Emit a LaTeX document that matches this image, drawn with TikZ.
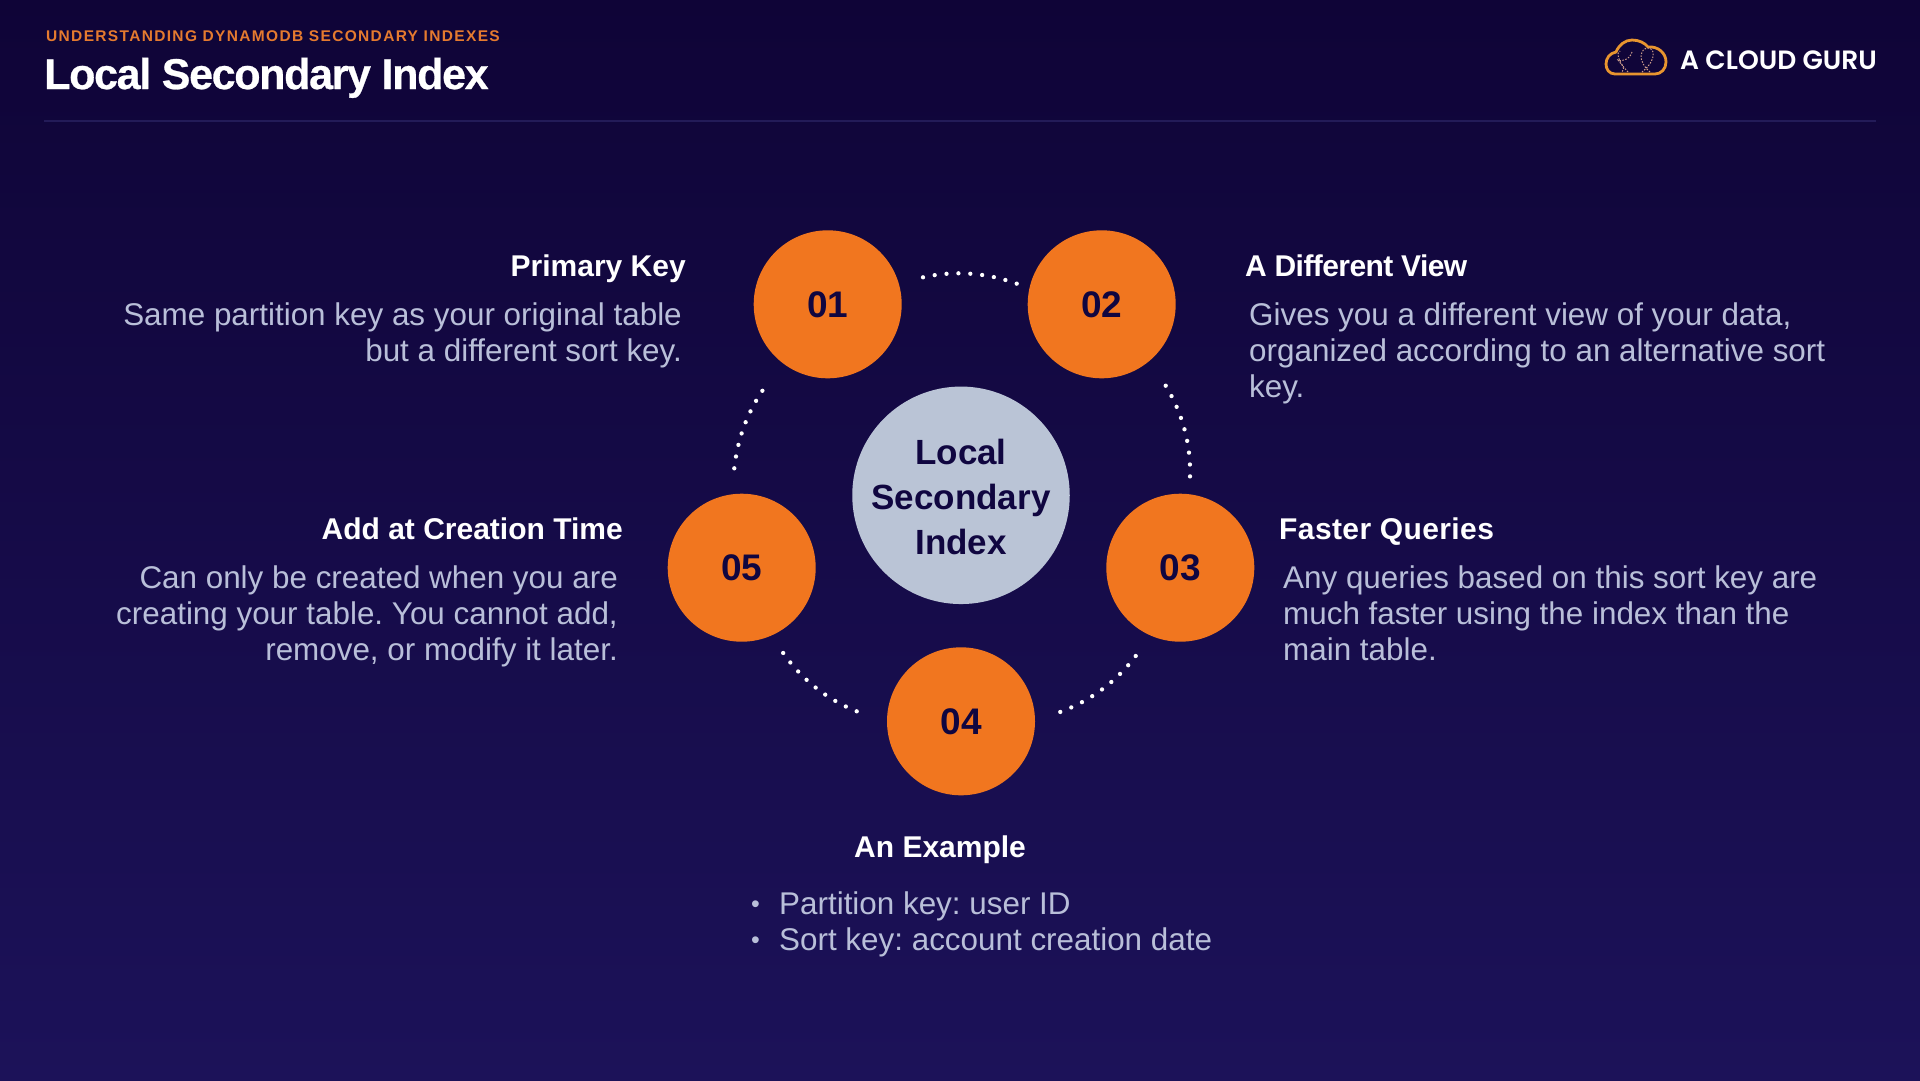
\documentclass[tikz,border=0pt]{standalone}
\usepackage{fontspec}
\setmainfont{Liberation Sans}
\newfontfamily\logofont[BoldFont={Poppins SemiBold}]{Poppins}
\frenchspacing
\definecolor{bgtop}{HTML}{0F0437}
\definecolor{bgbot}{HTML}{1C1259}
\definecolor{orangec}{HTML}{F1761F}
\definecolor{navy}{HTML}{100640}
\definecolor{hubc}{HTML}{BAC4D6}
\definecolor{bodyc}{HTML}{B9BFD9}
\definecolor{kickc}{HTML}{E57A2F}
\definecolor{rulec}{HTML}{231B58}
\definecolor{cloudc}{HTML}{E8952F}
\definecolor{cloudd}{HTML}{C99A8A}
\tikzset{
  numc/.style={circle,fill=orangec,minimum size=148pt,inner sep=0pt,text=navy,font=\fontsize{37}{37}\selectfont\bfseries},
  hubn/.style={circle,fill=hubc,minimum size=217.5pt,inner sep=0pt,text=navy,align=center,font=\fontsize{35}{45}\selectfont\bfseries},
  headt/.style={inner sep=0pt,text=white,font=\fontsize{30}{36}\selectfont\bfseries},
  bodyt/.style={inner sep=0pt,text=bodyc,font=\fontsize{31.4}{36}\selectfont},
  bult/.style={inner sep=0pt,text=bodyc,font=\fontsize{25}{36}\selectfont},
  dotarc/.style={white,line width=4.3pt,line cap=round,dash pattern=on 0pt off 11.9pt},
  cloudin/.style={cloudd,line width=1pt,dash pattern=on 1.5pt off 1.5pt}
}
\begin{document}
\begin{tikzpicture}[x=1pt,y=-1pt]
\useasboundingbox (0,0) rectangle (1920,1080);
\shade[top color=bgtop,bottom color=bgbot,middle color=bgtop!50!bgbot] (0,0) rectangle (1920,1080);
% header
\node[anchor=base west,inner sep=0pt,text=kickc,font=\fontsize{15.5}{18}\selectfont\bfseries] (kick) at (46,41) {\addfontfeature{LetterSpace=8.6}UNDERSTANDING DYNAMODB SECONDARY INDEXES};
\node[anchor=base west,inner sep=0pt,text=white,font=\fontsize{43}{46}\selectfont\bfseries] (title) at (44,89) {\addfontfeature{LetterSpace=-3.1,FakeBold=0.6}Local Secondary Index};
\draw[rulec,line width=2pt] (44,120.5) -- (1876,120.5);
% logo
\node[anchor=base west,inner sep=0pt,text=white,font=\logofont\fontsize{26.5}{30}\selectfont\bfseries] (logo) at (1680,69) {A CLOUD GURU};
\draw[cloudc,line width=2.8pt,line join=round] (1615,74) .. controls (1609,74) and (1606,69) .. (1606,64) .. controls (1606,58) and (1610,53) .. (1616,52) .. controls (1619,45) and (1625,40) .. (1632,40) .. controls (1639,40) and (1645,43) .. (1648,47) .. controls (1658,46) and (1666,53) .. (1666,62) .. controls (1666,69) and (1661,74) .. (1655,74) -- cycle;
\draw[cloudin] (1650,72) .. controls (1636,60) and (1641,48) .. (1648,48) .. controls (1655,48) and (1657,60) .. (1642,72);
\draw[cloudin] (1628,72) .. controls (1618,62) and (1616,52) .. (1620,51);
\draw[cloudin] (1632,52) .. controls (1630,60) and (1620,62) .. (1618,60) .. controls (1620,64) and (1626,66) .. (1622,72);
% nodes
\node[hubn] (hub) at (961,495.3) {\rule{0pt}{29pt}Local\\Secondary\\Index};
\node[numc] (c1) at (827.7,304.3) {01};
\node[numc] (c2) at (1101.7,304.3) {02};
\node[numc] (c3) at (1180.3,567.7) {03};
\node[numc] (c4) at (961,721.3) {04};
\node[numc] (c5) at (741.7,567.7) {05};
% dotted arcs
\coordinate (a12) at (923,277.3); \coordinate (b12) at (1017.7,284);
\coordinate (a23) at (1165.7,385.7); \coordinate (b23) at (1190,477.3);
\coordinate (a34) at (1135.7,656); \coordinate (b34) at (1059.3,712.3);
\coordinate (a45) at (856.7,711.3); \coordinate (b45) at (782.7,652.3);
\coordinate (a51) at (734.3,468.3); \coordinate (b51) at (762.7,390.3);
\draw[dotarc] (a12) .. controls (954.5,270.3) and (986.1,272.5) .. (b12);
\draw[dotarc] (a23) .. controls (1182.9,414.2) and (1191,444.8) .. (b23);
\draw[dotarc] (a34) .. controls (1115.8,682.1) and (1090.4,700.9) .. (b34);
\draw[dotarc] (a45) .. controls (826.2,699) and (801.5,679.3) .. (b45);
\draw[dotarc] (a51) .. controls (737.4,439.6) and (746.8,413.6) .. (b51);
% text
\node[headt,anchor=base east] (h1) at (686,276) {Primary Key};
\node[bodyt,anchor=north east,align=right] (t1) at (682,303) {Same partition key as your original table\\but a different sort key.};
\node[headt,anchor=base west] (h2) at (1245,276) {\addfontfeature{LetterSpace=-1.9}A Different View};
\node[bodyt,anchor=north west,align=left] (t2) at (1249,303) {Gives you a different view of your data,\\organized according to an alternative sort\\key.};
\node[headt,anchor=base west] (h3) at (1279,539) {\addfontfeature{LetterSpace=1.3}Faster Queries};
\node[bodyt,anchor=north west,align=left] (t3) at (1283,566) {Any queries based on this sort key are\\much faster using the index than the\\main table.};
\node[headt,anchor=base east] (h5) at (623,539) {Add at Creation Time};
\node[bodyt,anchor=north east,align=right] (t5) at (618,566) {Can only be created when you are\\creating your table. You cannot add,\\remove, or modify it later.};
\node[headt,anchor=base west] (h4) at (854,857) {An Example};
\node[bodyt,anchor=north west,align=left] (t4) at (779,892) {Partition key: user ID\\Sort key: account creation date};
\node[bult,anchor=north west,align=left] (bl) at (751,901) {•\\•};
\end{tikzpicture}
\end{document}
